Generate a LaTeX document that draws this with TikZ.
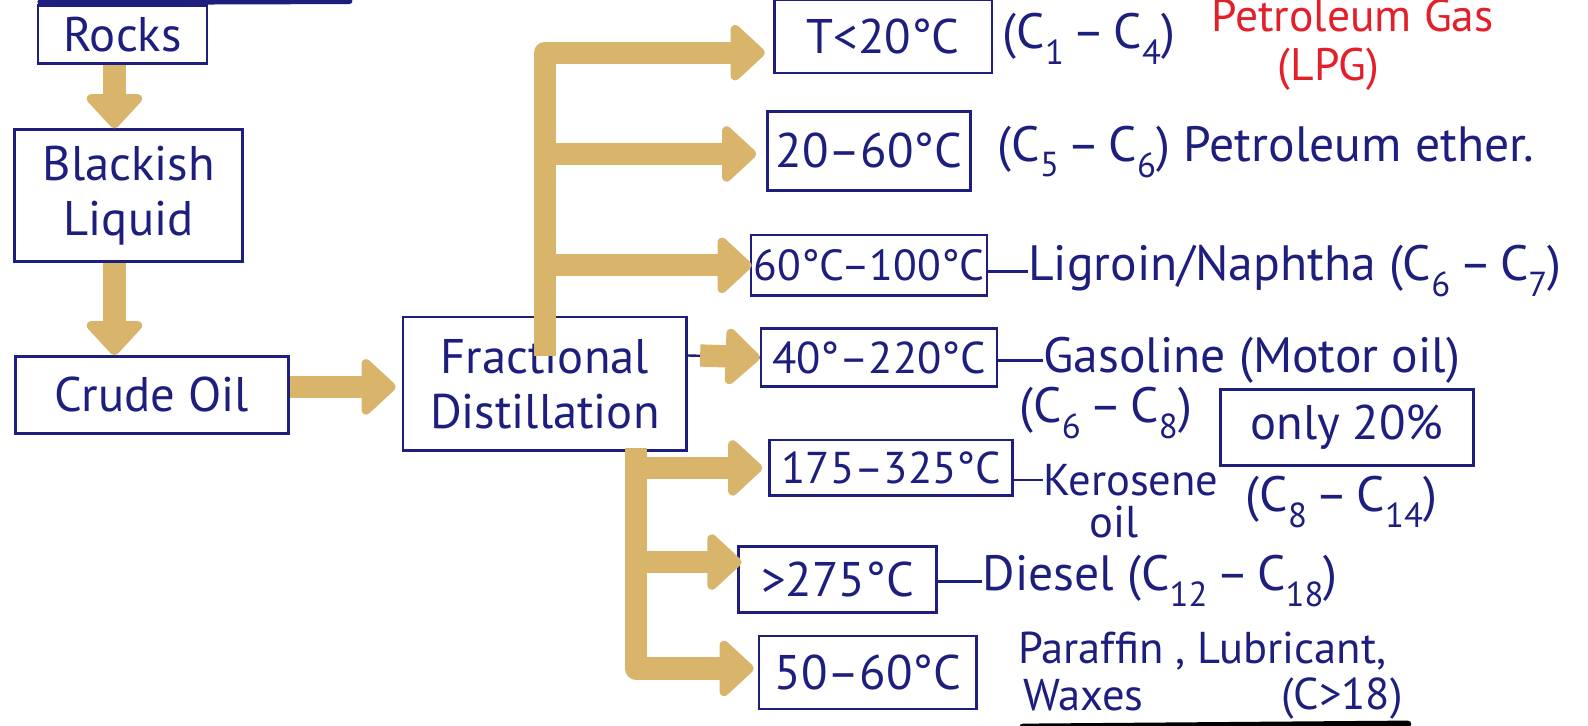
\documentclass[tikz,border=0pt]{standalone}
\usepackage{fontspec}
\setmainfont{PT Sans}
\usetikzlibrary{arrows.meta}
\definecolor{ink}{HTML}{1E1E7E}
\definecolor{gold}{HTML}{D8B56A}
\definecolor{redink}{HTML}{E3202A}
\tikzset{
  inkbox/.style={draw=ink, line width=2.6pt, text=ink, inner sep=0pt, align=center,
    font=\fontsize{48}{54}\selectfont},
  inktext/.style={text=ink, inner sep=0pt, align=center, font=\fontsize{49}{54}\selectfont},
  smalltext/.style={inktext, font=\fontsize{44}{48}\selectfont},
  redtext/.style={text=redink, inner sep=0pt, align=center, font=\fontsize{45}{50}\selectfont},
  goldarrow/.style={draw=gold, line width=22pt, line join=round,
    -{Triangle[length=36pt, width=64pt, round]}, color=gold},
  tick/.style={draw=ink, line width=2.4pt}
}
\begin{document}
\begin{tikzpicture}[x=1pt, y=-1pt]
\useasboundingbox (0,0) rectangle (1568,716);
\fill[white] (0,0) rectangle (1568,716);

% ink stroke along the top edge and smudge along the bottom
\draw[ink, line width=6pt, line cap=round] (40,2) -- (345,1);
\draw[black, line width=7pt, line cap=round] (1010,718) -- (1390,715);

% left column
\node[inkbox, minimum width=167pt, minimum height=57pt] (rocks) at (121,34) {Rocks};
\node[inkbox, minimum width=225pt, minimum height=130pt] (black) at (127,193) {Blackish\\Liquid};
\node[inkbox, minimum width=270pt, minimum height=76pt] (crude) at (150,390) {Crude Oil};
\node[inkbox, minimum width=280pt, minimum height=132pt] (frac) at (538,379) {Fractional\\Distillation};

% temperature ranges
\node[inkbox, minimum width=215pt, minimum height=72pt] (b1) at (872,36) {T<20°C};
\node[inkbox, minimum width=200pt, minimum height=78pt] (b2) at (858,149) {20–60°C};
\node[inkbox, minimum width=233pt, minimum height=60pt, font=\fontsize{43}{48}\selectfont] (b3) at (858,262) {60°C–100°C};
\node[inkbox, minimum width=233pt, minimum height=57pt, font=\fontsize{44}{48}\selectfont] (b4) at (868,353) {40°–220°C};
\node[inkbox, minimum width=240pt, minimum height=55pt, font=\fontsize{44}{48}\selectfont] (b5) at (880,462) {175–325°C};
\node[inkbox, minimum width=195pt, minimum height=65pt] (b6) at (827,572) {>275°C};
\node[inkbox, minimum width=215pt, minimum height=72pt] (b7) at (857,664) {50–60°C};

% fractions
\node[inktext, anchor=west] (t1) at (990,38) {(C\textsubscript{1}\,–\,C\textsubscript{4})};
\node[redtext, anchor=west] (t1r) at (1196,15) {Petroleum Gas};
\node[redtext] (t1l) at (1312,68) {(LPG)};
\node[inktext, anchor=west] (t2) at (985,150) {(C\textsubscript{5}\,–\,C\textsubscript{6})\ Petroleum ether.};
\node[inktext, anchor=west] (t3) at (1015,268) {Ligroin/Naphtha (C\textsubscript{6}\,–\,C\textsubscript{7})};
\node[inktext, anchor=west] (t4) at (1030,356) {Gasoline (Motor oil)};
\node[inktext] (t4c) at (1092,408) {(C\textsubscript{6}\,–\,C\textsubscript{8})};
\node[inkbox, minimum width=250pt, minimum height=75pt] (only) at (1330,422) {only 20\%};
\node[smalltext, anchor=west] (t5) at (1030,474) {Kerosene};
\node[smalltext] (t5o) at (1100,515) {oil};
\node[inktext, anchor=west] (t5c) at (1230,496) {(C\textsubscript{8}\,–\,C\textsubscript{14})};
\node[inktext, anchor=west] (t6) at (970,574) {Diesel (C\textsubscript{12}\,–\,C\textsubscript{18})};
\node[smalltext, anchor=west] (t7) at (1005,643) {Paraffin , Lubricant,};
\node[smalltext, anchor=west] (t7w) at (1010,686) {Waxes};
\node[smalltext] (t7c) at (1325,690) {(C>18)};

% short ink links from boxes to their labels
\draw[tick] (b3.east |- t3.west) -- (t3.west);
\draw[tick] (b4.east |- t4.west) -- (t4.west);
\draw[tick] (b5.east |- t5.west) -- (t5.west);
\draw[tick] (b6.east |- t6.west) -- (t6.west);
\draw[tick] ([yshift=28pt]frac.east) -- (b4.west);

% gold flow arrows
\draw[goldarrow] ([xshift=-8pt]rocks.south) -- ([xshift=-8pt]rocks.south |- black.north);
\draw[goldarrow] ([xshift=-14pt]black.south) -- ([xshift=-14pt]black.south |- crude.north);
\draw[goldarrow, shorten >=6pt] ([yshift=8pt]crude.east) -- ([yshift=8pt]crude.east -| frac.west);
\draw[goldarrow, shorten >=8pt] ([yshift=-40pt]frac.north) |- ([yshift=-16pt]b1.west);
\draw[goldarrow, shorten >=10pt] ([yshift=-40pt]frac.north) |- ([yshift=-3pt]b2.west);
\draw[goldarrow, shorten >=-2pt] ([yshift=-40pt]frac.north) |- (b3.west);
\draw[goldarrow, shorten >=0pt] ([xshift=12pt, yshift=28pt]frac.east) -- (b4.west);
\draw[goldarrow, shorten >=6pt] ([xshift=90pt, yshift=4pt]frac.south) |- (b5.west);
\draw[goldarrow, shorten >=-4pt] ([xshift=90pt, yshift=4pt]frac.south) |- ([yshift=17pt]b6.west);
\draw[goldarrow, shorten >=4pt] ([xshift=90pt, yshift=4pt]frac.south) |- ([yshift=4pt]b7.west);
\end{tikzpicture}
\end{document}
